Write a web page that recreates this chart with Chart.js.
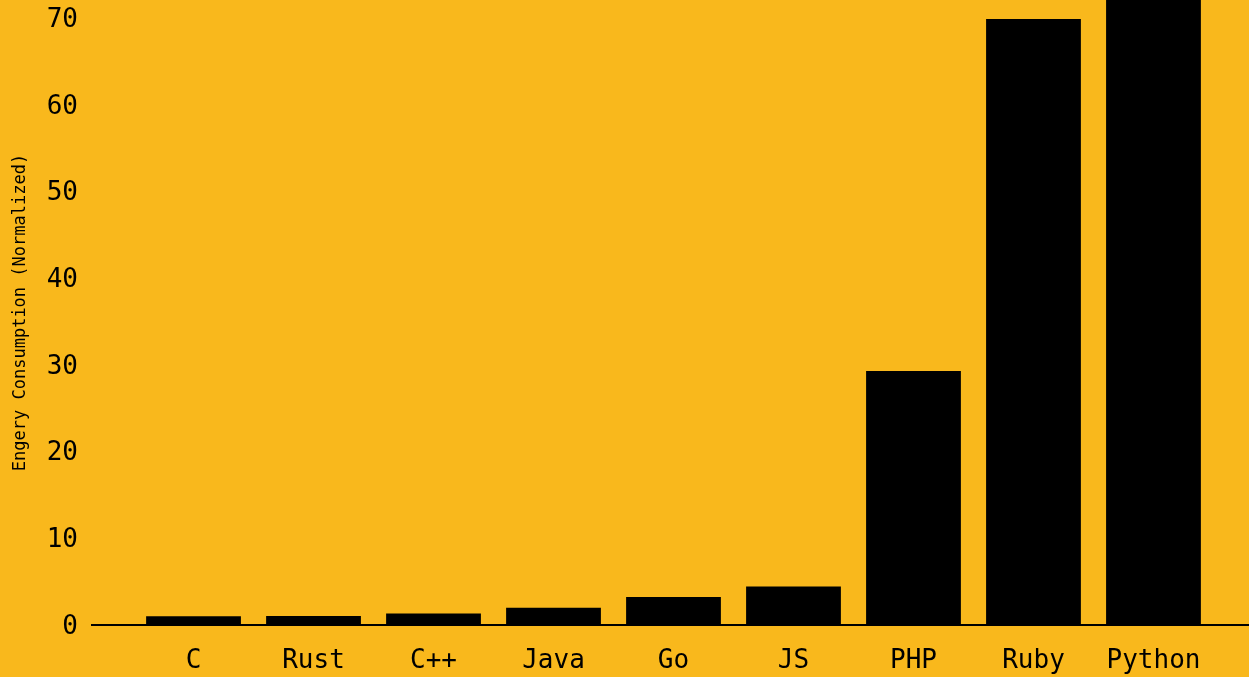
<!DOCTYPE html>
<html>
<head>
<meta charset="utf-8">
<script src="https://cdn.jsdelivr.net/npm/chart.js@4"></script>
<style>
  html, body { margin: 0; padding: 0; background: #f9b81c; overflow: hidden; }
  #wrap { width: 1249px; height: 677px; position: relative; }
</style>
</head>
<body>
<div id="wrap"><canvas id="chart"></canvas></div>
<script>
const languages = ["C", "Rust", "C++", "Java", "Go", "JS", "PHP", "Ruby", "Python"];
const energy = [1.0, 1.03, 1.34, 1.98, 3.23, 4.45, 29.3, 69.91, 75.88];
const yTicks = [0, 10, 20, 30, 40, 50, 60, 70];

const mono = "'DejaVu Sans Mono', monospace";
const ink = "#000000";

const data = {
  datasets: [
    {
      data: energy.map((v, i) => ({ x: i, y: v })),
      backgroundColor: ink,
      categoryPercentage: 1,
      barPercentage: 0.79,
    },
  ],
};

const config = {
  type: "bar",
  data: data,
  options: {
    responsive: true,
    maintainAspectRatio: false,
    animation: false,
    layout: { padding: 0 },
    scales: {
      x: {
        type: "linear",
        offset: false,
        min: -0.846,
        max: 8.796,
        grid: { display: false, drawTicks: false },
        border: { display: true, color: ink, width: 2 },
        afterBuildTicks: (scale) => {
          scale.ticks = languages.map((_, i) => ({ value: i }));
        },
        afterFit: (scale) => {
          scale.height = 52;
          scale.paddingLeft = 0;
          scale.paddingRight = 0;
        },
        ticks: {
          autoSkip: false,
          maxRotation: 0,
          padding: 21,
          color: ink,
          font: { family: mono, size: 26 },
          callback: (v) => languages[v] ?? "",
        },
      },
      y: {
        min: 0,
        max: 72.1,
        grid: { display: false, drawTicks: false },
        border: { display: false },
        afterBuildTicks: (scale) => {
          scale.ticks = yTicks.map((v) => ({ value: v }));
        },
        afterFit: (scale) => {
          scale.width = 92;
          scale.paddingTop = 0;
          scale.paddingBottom = 0;
        },
        ticks: {
          padding: 14,
          labelOffset: 2,
          color: ink,
          font: { family: mono, size: 26 },
        },
        title: {
          display: true,
          text: "Engery Consumption (Normalized)",
          color: ink,
          padding: { top: 10, bottom: 0 },
          font: { family: mono, size: 17 },
        },
      },
    },
    plugins: {
      legend: { display: false },
      tooltip: { enabled: false },
    },
  },
};

new Chart(document.getElementById("chart"), config);
</script>
</body>
</html>
